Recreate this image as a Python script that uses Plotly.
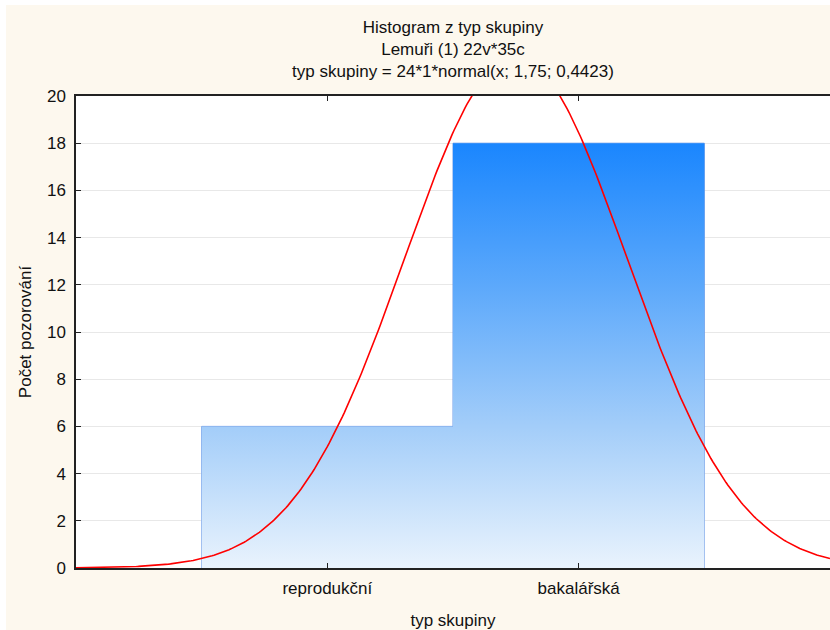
import numpy as np
import plotly.graph_objects as go

categories = ["reprodukční", "bakalářská"]
cat_pos = [1, 2]
counts = [6, 18]
# fitted normal from the chart subtitle: 24*1*normal(x; 1,75; 0,4423)
n_obs = 24
bin_w = 1
mu = 1.75
sigma = 0.4423
y_ticks = [0, 2, 4, 6, 8, 10, 12, 14, 16, 18, 20]

FONT = "Liberation Sans, Arial, sans-serif"
fig = go.Figure()

# gradient fills of the bars
for c, v in zip(cat_pos, counts):
    fig.add_trace(go.Scatter(
        x=[c - bin_w / 2, c - bin_w / 2, c + bin_w / 2, c + bin_w / 2, c - bin_w / 2],
        y=[0, v, v, 0, 0],
        mode="lines", fill="toself", line=dict(width=0),
        fillgradient=dict(type="vertical", start=0, stop=max(counts),
                          colorscale=[[0, "#E9F3FD"], [0.333, "#A3CDF9"],
                                      [0.66, "#5DA9FB"], [1, "#1A86FE"]]),
        hoverinfo="skip", showlegend=False))

# bar outlines
fig.add_trace(go.Bar(x=cat_pos, y=counts, width=bin_w,
                     marker=dict(color="rgba(0,0,0,0)", line=dict(color="#6E9BE6", width=1)),
                     showlegend=False))

xs = np.linspace(0, 3, 400)
ys = n_obs * bin_w * np.exp(-0.5 * ((xs - mu) / sigma) ** 2) / (sigma * np.sqrt(2 * np.pi))
fig.add_trace(go.Scatter(x=xs, y=ys, mode="lines", line=dict(color="#FF0000", width=1.6),
                         showlegend=False, hoverinfo="skip"))

# thin white strips at the top and left edges of the image
fig.add_shape(type="rect", xref="paper", yref="paper", x0=-76/754, x1=-70/754,
              y0=-62/472, y1=1 + 96/472, fillcolor="white", line=dict(width=0), layer="below")
fig.add_shape(type="rect", xref="paper", yref="paper", x0=-76/754, x1=1,
              y0=1 + 91/472, y1=1 + 96/472, fillcolor="white", line=dict(width=0), layer="below")

fig.update_layout(
    width=830, height=630,
    margin=dict(l=76, r=0, t=96, b=62),
    paper_bgcolor="#FDF8EE", plot_bgcolor="white",
    font=dict(family=FONT, size=17, color="#111"),
    title=dict(text="Histogram z typ skupiny<br>Lemuři (1) 22v*35c<br>typ skupiny = 24*1*normal(x; 1,75; 0,4423)",
               x=0.5, xref="paper", y=1 - 33/630, yanchor="top", font=dict(size=17)),
    barmode="overlay",
    xaxis=dict(range=[0, 3], tickvals=cat_pos, ticktext=categories, automargin=False,
               showgrid=False, zeroline=False, showline=True, linecolor="#222", linewidth=1.5,
               mirror="ticks", ticks="inside", ticklen=5, tickcolor="#222",
               ticklabelstandoff=4,
               title=dict(text="typ skupiny", standoff=17, font=dict(size=17)),
               tickfont=dict(size=17)),
    yaxis=dict(range=[0, 20], tickvals=y_ticks, showgrid=True, gridcolor="#E8E8E8",
               automargin=False,
               zeroline=False, showline=True, linecolor="#222", linewidth=1.5,
               ticks="inside", ticklen=5, tickcolor="#222",
               ticklabelstandoff=5,
               title=dict(text="Počet pozorování", standoff=11, font=dict(size=17)),
               tickfont=dict(size=17)),
)
fig.write_html("out.html", config={"displayModeBar": False},
               post_script="document.body.style.margin='0';document.body.style.overflow='hidden';")
